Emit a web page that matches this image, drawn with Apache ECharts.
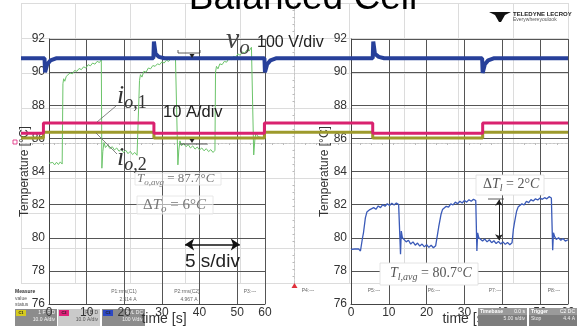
<!DOCTYPE html>
<html>
<head>
<meta charset="utf-8">
<script src="https://cdn.jsdelivr.net/npm/echarts@6/dist/echarts.min.js"></script>
<style>
html,body{margin:0;padding:0;background:#fff;}
#chart{width:577px;height:326px;}
</style>
</head>
<body>
<div id="chart"></div>
<script>
// ---- Temperature axis ticks ----
const xTickLabels = ['0', '10', '20', '30', '40', '50', '60'];

// ---- Output-side temperature T_o (left panel), time [s] / temperature [°C] ----
const toTime = [0,0.5,1.0,1.5,2.0,2.5,3.0,3.5,3.7,3.9,4.2,4.6,5.0,5.6,6.2,6.8,7.4,8.0,8.6,9.2,9.8,10.4,11.0,11.6,12.2,12.8,13.4,13.9,
  14.05,14.3,14.6,15.0,15.6,16.2,16.8,17.4,18.0,18.6,19.2,19.8,20.4,21.0,21.6,22.2,22.8,23.4,23.9,
  24.05,24.3,24.7,25.2,25.8,26.4,27.0,27.6,28.2,28.8,29.4,30.0,30.6,31.2,31.8,32.4,33.0,33.6,34.1,
  34.25,34.5,34.8,35.2,35.8,36.4,37.0,37.6,38.2,38.8,39.4,40.0,40.6,41.2,41.8,42.4,43.0,43.6,44.1,
  44.25,44.5,44.9,45.4,46.0,46.6,47.2,47.8,48.4,49.0,49.6,50.2,50.8,51.4,52.0,52.6,53.2,53.8,54.25,
  54.4,54.7,55.0,55.5,56.0,56.5,57.0,57.4];
const toTemp = [84.5,84.38,84.55,84.4,84.56,84.42,84.58,84.45,89.3,89.6,89.45,89.75,89.7,89.95,89.9,90.1,90.05,90.22,90.15,90.32,90.25,90.45,90.38,90.55,90.48,90.65,90.58,90.75,
  84.2,85.2,85.75,85.45,85.6,85.38,85.5,85.3,85.42,85.22,85.35,85.15,85.28,85.08,85.22,85.02,85.15,84.98,85.1,
  89.5,89.85,89.7,90.05,90.0,90.25,90.2,90.4,90.35,90.5,90.45,90.62,90.55,90.72,90.65,90.82,90.75,90.92,90.88,
  84.4,85.3,85.85,85.55,85.7,85.5,85.62,85.42,85.55,85.35,85.48,85.3,85.42,85.25,85.38,85.2,85.32,85.15,85.28,
  90.0,90.35,90.2,90.5,90.45,90.65,90.6,90.82,90.75,90.95,90.9,91.1,91.02,91.22,91.15,91.35,91.28,91.5,91.45,
  85.0,85.9,86.35,86.1,86.2,86.05,86.15,86.05];

// ---- Load-side temperature T_l (right panel) ----
const tlTime = [0,0.5,1.0,1.5,2.0,2.5,2.9,3.05,3.3,3.6,3.8,4.2,4.6,5.0,5.5,6.0,6.6,7.2,7.8,8.4,9.0,9.6,10.2,10.8,11.4,12.0,12.6,13.0,
  13.1,13.3,13.6,14.0,14.6,15.2,15.8,16.4,17.0,17.6,18.2,18.8,19.4,20.0,20.6,21.2,21.8,22.4,22.8,
  22.95,23.2,23.5,23.8,24.2,24.7,25.2,25.8,26.4,27.0,27.6,28.2,28.8,29.4,30.0,30.6,31.2,31.8,32.4,33.0,33.2,
  33.3,33.5,33.8,34.2,34.8,35.4,36.0,36.6,37.2,37.8,38.4,39.0,39.6,40.2,40.8,41.4,42.0,42.6,42.8,
  42.95,43.2,43.5,43.8,44.2,44.7,45.2,45.8,46.4,47.0,47.6,48.2,48.8,49.4,50.0,50.6,51.2,51.8,52.4,53.0,53.25,
  53.35,53.55,53.9,54.3,54.9,55.5,56.1,56.7,57.4];
const tlTemp = [79.3,79.18,79.32,79.2,79.33,79.2,79.3,80.0,80.3,80.4,81.2,81.55,81.45,81.7,81.6,81.82,81.72,81.92,81.82,82.0,81.9,82.05,81.95,82.08,81.98,82.1,82.0,82.12,
  79.0,80.4,80.0,79.9,79.75,79.85,79.62,79.75,79.55,79.68,79.5,79.62,79.45,79.58,79.42,79.55,79.4,79.52,79.45,
  80.3,80.65,80.6,81.4,81.7,81.6,81.9,81.85,82.05,81.98,82.15,82.05,82.2,82.1,82.25,82.15,82.3,82.2,82.32,82.25,82.35,
  79.2,80.3,80.0,79.95,79.8,79.92,79.75,79.88,79.7,79.82,79.65,79.78,79.62,79.75,79.6,79.72,79.58,79.7,79.6,
  80.5,80.85,80.8,81.6,81.85,81.8,82.05,81.98,82.2,82.12,82.3,82.22,82.35,82.28,82.4,82.32,82.42,82.35,82.48,82.4,82.5,
  79.25,80.3,80.05,79.9,80.0,79.85,79.95,79.8,79.88];

// ---- Oscilloscope traces: time [s] from trigger, level in divisions ----
const voTime = [-25,-22.85,-22.8,-22.6,-22.3,-21.8,-12.9,-12.85,-12.7,-12.4,-11.9,-2.75,-2.7,-2.5,-2.2,-1.7,7.15,7.2,7.35,7.7,8.2,17.15,17.2,17.4,17.7,18.2,25];
const voDiv  = [2.42,2.42,2.02,2.25,2.36,2.42,2.42,2.9,2.55,2.46,2.42,2.42,2.02,2.25,2.36,2.42,2.42,2.9,2.55,2.46,2.42,2.42,2.0,2.25,2.36,2.42,2.42];
const io1Time = [-25,-22.95,-12.85,-2.75,7.15,17.2,25];
const io1Div  = [0.28,0.57,0.28,0.57,0.28,0.57,0.57];
const io2Time = [-25,-22.95,-12.85,-2.75,7.15,17.2,25];
const io2Div  = [0.14,0.31,0.14,0.31,0.14,0.31,0.31];

const zip = (a, b) => a.map((v, i) => [v, b[i]]);

const SANS = 'Liberation Sans';
const SERIF = 'Liberation Serif';

function mathRich(size, color, raise) {
  const sub = Math.round(size * 0.7);
  return {
    m:  {fontFamily: SERIF, fontStyle: 'italic', fontSize: size, fill: color, verticalAlign: 'bottom', padding: [0, 0, raise, 0]},
    r:  {fontFamily: SERIF, fontSize: size, fill: color, verticalAlign: 'bottom', padding: [0, 0, raise, 0]},
    s:  {fontFamily: SERIF, fontStyle: 'italic', fontSize: sub, fill: color, verticalAlign: 'bottom'},
    rs: {fontFamily: SERIF, fontSize: sub, fill: color, verticalAlign: 'bottom'}
  };
}

function tempX(grid, shift) {
  return {
    gridIndex: grid, type: 'value', min: 0, max: 57.4, interval: 10, z: 3,
    axisLine: {show: true, onZero: false, lineStyle: {color: '#444', width: 1}},
    axisTick: {show: false},
    axisLabel: {color: '#333', fontSize: 12, fontFamily: SANS, margin: 3, showMaxLabel: true,
      formatter: (v, i) => xTickLabels[i]},
    splitLine: {show: true, lineStyle: {color: '#555', width: 1}},
    name: 'time [s]', nameLocation: 'middle', nameGap: 8, nameMoveOverlap: false,
    nameTextStyle: {fontSize: 14, color: '#333', fontFamily: SANS, padding: [0, 0, 0, shift]}
  };
}
function tempY(grid, gap) {
  return {
    gridIndex: grid, type: 'value', min: 76, max: 92, interval: 2, z: 3,
    axisLine: {show: true, onZero: false, lineStyle: {color: '#444', width: 1}},
    axisTick: {show: false},
    axisLabel: {color: '#333', fontSize: 12, fontFamily: SANS, margin: 4},
    splitLine: {show: true, lineStyle: {color: '#555', width: 1}},
    name: 'Temperature [°C]', nameLocation: 'middle', nameGap: gap, nameMoveOverlap: false,
    nameTextStyle: {fontSize: 12, color: '#333', fontFamily: SANS}
  };
}

const tinyGray = (text, x, y, opts) => Object.assign({
  type: 'text', x: x, y: y, z: 8,
  style: {text: text, fill: '#666', font: '5px ' + SANS, align: 'center', verticalAlign: 'middle'}
}, opts || {});

function channelBox(x, w, bg, tagColor, tag, l1, l2, txtColor) {
  return [
    {type: 'rect', z: 1, shape: {x: x, y: 309, width: w, height: 17}, style: {fill: bg}},
    {type: 'rect', z: 1, shape: {x: x + 1, y: 310, width: 10, height: 6}, style: {fill: tagColor}},
    {type: 'text', z: 1, x: x + 6, y: 313, style: {text: tag, fill: '#222', font: 'bold 4px ' + SANS, align: 'center', verticalAlign: 'middle'}},
    {type: 'text', z: 1, x: x + w - 2, y: 313, style: {text: l1, fill: txtColor, font: '5px ' + SANS, align: 'right', verticalAlign: 'middle'}},
    {type: 'text', z: 1, x: x + w - 2, y: 320, style: {text: l2, fill: txtColor, font: '5px ' + SANS, align: 'right', verticalAlign: 'middle'}}
  ];
}
function infoBox(x, w, t1, v1, t2, v2) {
  return [
    {type: 'rect', z: 10, shape: {x: x, y: 308, width: w, height: 18}, style: {fill: '#7d7d7d'}},
    {type: 'rect', z: 10, shape: {x: x, y: 308, width: w, height: 7}, style: {fill: '#9a9a9a'}},
    {type: 'text', z: 10, x: x + 2, y: 311.5, style: {text: t1, fill: '#fff', font: 'bold 5px ' + SANS, verticalAlign: 'middle'}},
    {type: 'text', z: 10, x: x + w - 2, y: 311.5, style: {text: v1, fill: '#fff', font: '5px ' + SANS, align: 'right', verticalAlign: 'middle'}},
    {type: 'text', z: 10, x: x + 2, y: 319, style: {text: t2, fill: '#eee', font: '5px ' + SANS, verticalAlign: 'middle'}},
    {type: 'text', z: 10, x: x + w - 2, y: 319, style: {text: v2, fill: '#eee', font: '5px ' + SANS, align: 'right', verticalAlign: 'middle'}}
  ];
}

const graphics = [
  // title, clipped by the top edge
  {type: 'text', x: 303, y: -1, z: 8, style: {text: 'Balanced Cell', fill: '#000', font: '37px ' + SANS, align: 'center', verticalAlign: 'middle'}},
  // brand mark
  {type: 'polygon', z: 8, shape: {points: [[489, 12], [511, 12], [505, 15], [501, 22], [499, 22], [495, 15]]}, style: {fill: '#111'}},
  {type: 'text', x: 513, y: 14, z: 8, style: {text: 'TELEDYNE LECROY', fill: '#222', font: 'bold 6px ' + SANS, verticalAlign: 'middle'}},
  {type: 'text', x: 513, y: 20, z: 8, style: {text: 'Everywhereyoulook', fill: '#555', font: '5px ' + SANS, verticalAlign: 'middle'}},

  // trace annotations
  {type: 'text', x: 226, y: 42, z: 8, style: {text: '{m|v}{s|o}', rich: mathRich(30, '#444', 3), align: 'left', verticalAlign: 'middle'}},
  {type: 'text', x: 257, y: 43, z: 8, style: {text: '100 V/div', fill: '#222', font: '16px ' + SANS, verticalAlign: 'middle'}},
  {type: 'text', x: 117, y: 98, z: 8, style: {text: '{m|i}{s|o}{rs|,1}', rich: mathRich(26, '#333', 3), align: 'left', verticalAlign: 'middle'}},
  {type: 'text', x: 163, y: 112, z: 8, style: {text: '10 A/div', fill: '#222', font: '16.5px ' + SANS, verticalAlign: 'middle'}},
  {type: 'text', x: 117, y: 160, z: 8, style: {text: '{m|i}{s|o}{rs|,2}', rich: mathRich(26, '#333', 3), align: 'left', verticalAlign: 'middle'}},
  {type: 'line', z: 8, shape: {x1: 97, y1: 122, x2: 116, y2: 106}, style: {stroke: '#666', lineWidth: 0.8}},
  {type: 'line', z: 8, shape: {x1: 96, y1: 133, x2: 117, y2: 154}, style: {stroke: '#666', lineWidth: 0.8}},

  // cursor marks on the scope
  {type: 'polyline', z: 8, shape: {points: [[178, 50], [178, 53], [200, 53], [200, 50]]}, style: {stroke: '#333', lineWidth: 0.8, fill: 'none'}},
  {type: 'polygon', z: 8, shape: {points: [[189.5, 54], [194.5, 54], [192, 58]]}, style: {fill: '#222'}},
  {type: 'line', z: 8, shape: {x1: 180, y1: 144, x2: 207, y2: 144}, style: {stroke: '#333', lineWidth: 0.8}},
  {type: 'polygon', z: 8, shape: {points: [[189.5, 139], [194.5, 139], [192, 143]]}, style: {fill: '#222'}},

  // T_o statistics
  {type: 'rect', z: 6, shape: {x: 135, y: 173, width: 86, height: 12}, style: {fill: 'rgba(255,255,255,0.55)', stroke: '#e2e2e2', lineWidth: 0.8}},
  {type: 'text', x: 137, y: 180, z: 8, style: {text: '{m|T}{s|o,avg}{r| = 87.7°}{m|C}', rich: mathRich(13, '#777', 2), align: 'left', verticalAlign: 'middle'}},
  {type: 'rect', z: 6, shape: {x: 137, y: 196, width: 76, height: 18}, style: {fill: 'rgba(255,255,255,0.55)', stroke: '#e2e2e2', lineWidth: 0.8}},
  {type: 'text', x: 143, y: 206, z: 8, style: {text: '{r|Δ}{m|T}{s|o}{r| = 6°}{m|C}', rich: mathRich(15, '#777', 2), align: 'left', verticalAlign: 'middle'}},

  // 5 s/div label
  {type: 'text', x: 185, y: 262, z: 8, style: {text: '5 s/div', fill: '#222', font: '19px ' + SANS, verticalAlign: 'middle'}},

  // T_l statistics
  {type: 'rect', z: 6, shape: {x: 476, y: 175, width: 68, height: 20}, style: {fill: '#fff', stroke: '#ddd', lineWidth: 0.8}},
  {type: 'text', x: 483, y: 185, z: 8, style: {text: '{r|Δ}{m|T}{s|l}{r| = 2°}{m|C}', rich: mathRich(14, '#555', 2), align: 'left', verticalAlign: 'middle'}},
  {type: 'line', z: 8, shape: {x1: 488, y1: 199, x2: 504, y2: 199}, style: {stroke: '#333', lineWidth: 0.8}},
  {type: 'rect', z: 6, shape: {x: 380, y: 263, width: 98, height: 22}, style: {fill: '#fff', stroke: '#ddd', lineWidth: 0.8}},
  {type: 'text', x: 390, y: 274, z: 8, style: {text: '{m|T}{s|l,avg}{r| = 80.7°}{m|C}', rich: mathRich(14, '#555', 2), align: 'left', verticalAlign: 'middle'}},

  // scope markers
  {type: 'rect', z: 8, shape: {x: 13, y: 140, width: 4, height: 4}, style: {fill: 'none', stroke: '#e0207a', lineWidth: 0.8}},
  {type: 'polygon', z: 8, shape: {points: [[291.5, 288], [297.5, 288], [294.5, 283]]}, style: {fill: '#e0303a'}},

  // measurement row
  {type: 'text', x: 15, y: 292, z: 8, style: {text: 'Measure', fill: '#333', font: 'bold 5px ' + SANS, verticalAlign: 'middle'}},
  {type: 'text', x: 15, y: 299, z: 8, style: {text: 'value', fill: '#555', font: '5px ' + SANS, verticalAlign: 'middle'}},
  {type: 'text', x: 15, y: 305, z: 8, style: {text: 'status', fill: '#555', font: '5px ' + SANS, verticalAlign: 'middle'}},
  tinyGray('P1:rms(C1)', 124, 292), tinyGray('2.514 A', 128, 300),
  tinyGray('P2:rms(C2)', 187, 292), tinyGray('4.967 A', 189, 300),
  tinyGray('P3:---', 250, 292), tinyGray('P4:---', 308, 291),
  tinyGray('P5:---', 374, 291), tinyGray('P6:---', 434, 291),
  tinyGray('P7:---', 495, 291), tinyGray('P8:---', 554, 291)
].concat(
  channelBox(15, 42, '#8c8c8c', '#d6cb1f', 'C1', '1 F F D', '10.0 A/div', '#f4f4f4'),
  channelBox(58, 42, '#cacaca', '#e0207a', 'C2', 'F B D', '10.0 A/div', '#555'),
  channelBox(102, 43, '#8c8c8c', '#2c48c4', 'C3', 'BwL DC', '100 V/div', '#f4f4f4'),
  infoBox(478, 49, 'Timebase', '0.0 s', '', '5.00 s/div'),
  infoBox(529, 48, 'Trigger', 'C2 DC', 'Stop', '4.4 A')
);

const chart = echarts.init(document.getElementById('chart'), null, {renderer: 'canvas'});
chart.setOption({
  animation: false,
  backgroundColor: '#fff',
  grid: [
    {left: 21, top: 3, width: 547, height: 280, outerBoundsMode: 'none', containLabel: false},
    {left: 49, top: 39, width: 216, height: 265, outerBoundsMode: 'none', containLabel: false},
    {left: 351, top: 39, width: 217, height: 265, outerBoundsMode: 'none', containLabel: false}
  ],
  xAxis: [
    {gridIndex: 0, type: 'value', min: -25, max: 25, interval: 5, z: 0,
      axisLine: {show: true, onZero: true, lineStyle: {color: '#c6c6c6', type: [2, 2]}},
      axisTick: {show: false},
      minorTick: {show: true, splitNumber: 5, length: 2, lineStyle: {color: '#bbb'}},
      axisLabel: {show: false},
      splitLine: {show: true, lineStyle: {color: '#dcdcdc'}}},
    tempX(1, 14), tempX(2, 11)
  ],
  yAxis: [
    {gridIndex: 0, type: 'value', min: -4, max: 4, interval: 1, z: 0,
      axisLine: {show: true, onZero: true, lineStyle: {color: '#c6c6c6', type: [2, 2]}},
      axisTick: {show: false},
      minorTick: {show: true, splitNumber: 5, length: 2, lineStyle: {color: '#bbb'}},
      axisLabel: {show: false},
      splitLine: {show: true, lineStyle: {color: '#dcdcdc'}}},
    tempY(1, 18), tempY(2, 20)
  ],
  series: [
    {name: 'T_o', type: 'line', xAxisIndex: 1, yAxisIndex: 1, z: 4, data: zip(toTime, toTemp),
      showSymbol: false, lineStyle: {color: '#6cc46a', width: 1}},
    {name: 'T_l', type: 'line', xAxisIndex: 2, yAxisIndex: 2, z: 4, data: zip(tlTime, tlTemp),
      showSymbol: false, lineStyle: {color: '#3a5ab8', width: 1.3},
      markLine: {silent: true, symbol: ['arrow', 'arrow'], symbolSize: 6, label: {show: false},
        lineStyle: {color: '#222', width: 1, type: 'solid'},
        data: [[{coord: [39.15, 79.85]}, {coord: [39.15, 82.3]}]]}},
    {name: 'i_o,2', type: 'line', xAxisIndex: 0, yAxisIndex: 0, z: 5, step: 'end', data: zip(io2Time, io2Div),
      showSymbol: false, lineStyle: {color: '#9d9a2c', width: 3}},
    {name: 'i_o,1', type: 'line', xAxisIndex: 0, yAxisIndex: 0, z: 5, step: 'end', data: zip(io1Time, io1Div),
      showSymbol: false, lineStyle: {color: '#d9226f', width: 3}},
    {name: 'v_o', type: 'line', xAxisIndex: 0, yAxisIndex: 0, z: 5, data: zip(voTime, voDiv),
      showSymbol: false, lineStyle: {color: '#27409a', width: 4},
      markLine: {silent: true, symbol: ['arrow', 'arrow'], symbolSize: 9, label: {show: false},
        lineStyle: {color: '#111', width: 1.5, type: 'solid'},
        data: [[{coord: [-10, -2.9]}, {coord: [-5, -2.9]}]]}}
  ],
  graphic: graphics
});
</script>
</body>
</html>
